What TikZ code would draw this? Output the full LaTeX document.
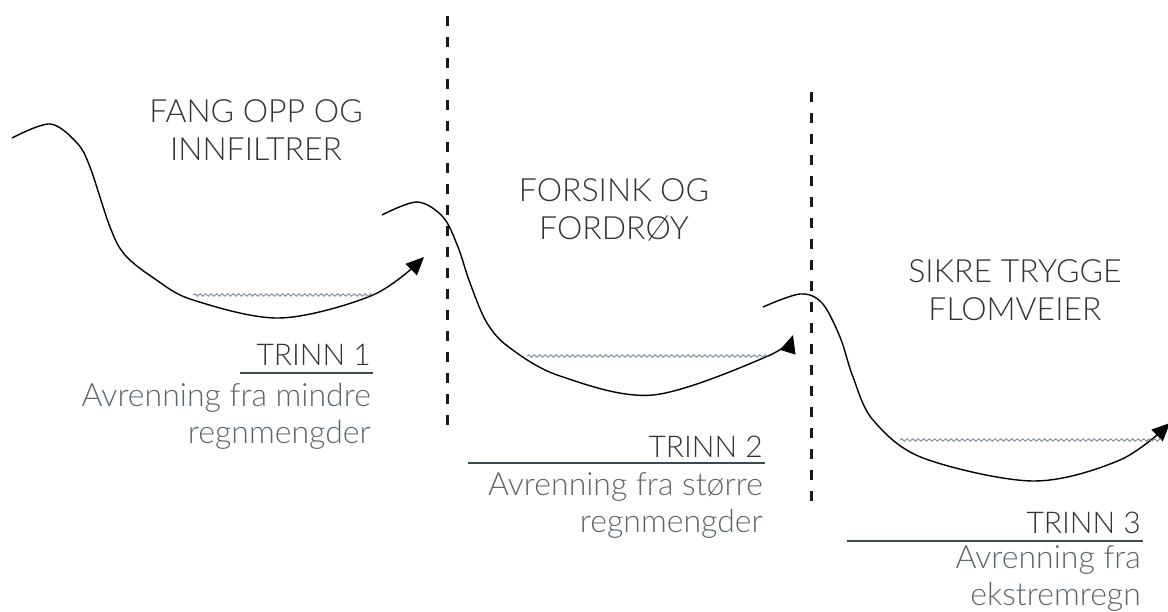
\documentclass[tikz,border=0pt]{standalone}
\usepackage{fontspec}
\setmainfont{Lato}[UprightFont=* Light]
\usepackage{xcolor}
\usetikzlibrary{arrows.meta, decorations.pathmorphing}

\definecolor{tekst}{HTML}{333333}
\definecolor{grunntekst}{HTML}{5C666D}
\definecolor{strek}{HTML}{3D4A51}
\definecolor{vann}{HTML}{7D8D98}

\tikzset{
	terreng/.style={line width=1.4pt, black},
	vannflate/.style={vann, line width=0.9pt, decorate,
		decoration={snake, segment length=5.5pt, amplitude=1.3pt}},
	skille/.style={line width=3pt, black!90, dash pattern=on 10pt off 11pt},
	tittel/.style={tekst, align=center, font=\fontsize{32}{38}\selectfont},
	trinn/.style={tekst, anchor=base east, inner sep=0pt, font=\fontsize{30}{36}\selectfont},
	% ved flere linjer ligger base på siste linje
	forklaring/.style={grunntekst, align=right, anchor=base east, inner sep=0pt,
		font=\fontsize{32}{37}\selectfont},
	understrek/.style={strek, line width=2.6pt}
}

\begin{document}
\begin{tikzpicture}[x=1pt, y=-1pt, > = {Triangle[length=18pt, width=16pt]}]
	\useasboundingbox (0,0) rectangle (1168,612);
	
	% skillelinjer
	\draw [skille] (447,16) -- (447,432);
	\draw [skille] (811,92) -- (811,510);
	
	% trinn 1
	\draw [terreng, ->] plot [smooth, tension=0.55] coordinates {(12,138) (50,124) (77,143) (90,167)
		(110,227) (125,255) (155,279) (193,300) (280,318) (373,295) (424,257)};
	\draw [vannflate] (193,295) -- (373,295);
	\node [tittel] (tittel1) at (256,130) {FANG OPP OG\\INNFILTRER};
	\node [trinn] (trinn1) at (371,366) {TRINN 1};
	\draw [understrek] (240,373) -- (373,373);
	\node [forklaring] (tekst1) at (371,443) {Avrenning fra mindre\\regnmengder};
	
	% trinn 2
	\draw [terreng, ->] plot [smooth, tension=0.55] coordinates {(382,215) (417,202) (443,217) (458,247)
		(470,283) (487,323) (510,348) (560,376) (653,395) (768,356) (793,335)};
	\draw [vannflate] (527,356) -- (768,356);
	\node [tittel] (tittel2) at (614,210) {FORSINK OG\\FORDRØY};
	\node [trinn] (trinn2) at (763,457) {TRINN 2};
	\draw [understrek] (468,463) -- (765,463);
	\node [forklaring] (tekst2) at (763,532) {Avrenning fra større\\regnmengder};
	
	% trinn 3
	\draw [terreng, ->] plot [smooth, tension=0.55] coordinates {(763,307) (800,294) (822,303) (840,337)
		(853,377) (873,420) (923,458) (1033,481) (1120,460) (1170,423)};
	\draw [vannflate] (900,440) -- (1162,440);
	\node [tittel] (tittel3) at (1015,290) {SIKRE TRYGGE\\FLOMVEIER};
	\node [trinn] (trinn3) at (1141,533) {TRINN 3};
	\draw [understrek] (847,541) -- (1143,541);
	\node [forklaring] (tekst3) at (1141,605) {Avrenning fra\\ekstremregn};
\end{tikzpicture}
\end{document}
